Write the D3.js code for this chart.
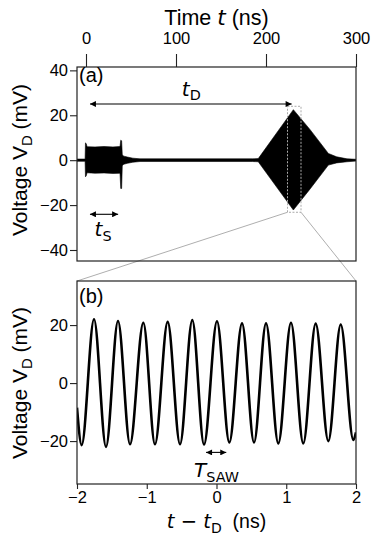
<!DOCTYPE html>
<html>
<head>
<meta charset="utf-8">
<script src="https://cdn.jsdelivr.net/npm/d3@7"></script>
<style>
  html, body { margin: 0; padding: 0; background: #fff; }
  svg { display: block; }
  text { font-family: "Liberation Sans", Arial, sans-serif; fill: #000; }
  .math { font-family: "DejaVu Sans", sans-serif; }
</style>
</head>
<body>
<div id="chart"></div>
<script>
// ── data ──────────────────────────────────────────────────
// panel (a): envelope of the recorded trace (time in ns, mV)
const envT  = [-10, -1, -0.6, 0.2, 1.2, 10, 20, 30, 37.8, 38.6, 39.6, 40.3, 42, 46, 52, 60, 100, 150, 185, 191.4, 230.4, 249, 269.3, 278.5, 290, 300];
const envHi = [0.5, 0.5, 7.7, 7.4, 6.0, 5.9, 6.1, 5.9, 6.1, 8.9, 8.6, 2.4, 1.8, 1.4, 0.9, 0.6, 0.6, 0.6, 0.6, 0.7, 22.5, 13.6, 3.0, 1.5, 0.6, 0.4];
const envLo = [-0.5, -0.5, -7.4, -7.0, -5.6, -5.8, -5.7, -5.9, -5.8, -12.6, -12.6, -2.5, -1.8, -1.4, -0.9, -0.6, -0.6, -0.6, -0.6, -0.7, -22.2, -12.8, -2.2, -1.2, -0.7, -0.4];

// panel (b): extrema of the SAW oscillation around t_D (ns, mV)
const waveT = [-2.000, -1.933, -1.756, -1.584, -1.412, -1.240, -1.049, -0.882, -0.700, -0.523, -0.347, -0.179,
               0.007, 0.184, 0.366, 0.538, 0.710, 0.886, 1.068, 1.244, 1.422, 1.603, 1.781, 1.962, 2.000];
const waveV = [-8.5, -21.4, 22.0, -22.0, 21.4, -21.1, 20.8, -21.1, 21.1, -21.1, 21.7, -21.2,
               21.3, -20.5, 20.6, -20.5, 20.6, -20.8, 20.8, -20.8, 20.5, -20.0, 20.2, -19.6, -17.0];

const ticksTimeA = [0, 100, 200, 300];
const ticksVA    = [-40, -20, 0, 20, 40];
const ticksTimeB = [-2, -1, 0, 1, 2];
const ticksVB    = [-20, 0, 20];

// zoom window shown in (b), in (a) coordinates
const zoomBox = { t0: 223.9, t1: 238.9, v0: -23.2, v1: 24 };

// ── layout ────────────────────────────────────────────────
const W = 382, H = 548;
const L = 77, R = 356;
const A = { top: 67, bottom: 261 };
const B = { top: 281, bottom: 484 };
const TICKFONT = 16.5;
const LABELFONT = 21;

const svg = d3.select("#chart").append("svg").attr("width", W).attr("height", H);

const defs = svg.append("defs");
[["arrowEnd", "auto"], ["arrowStart", "auto-start-reverse"]].forEach(([id, orient]) => {
  defs.append("marker").attr("id", id)
    .attr("viewBox", "0 0 10 10").attr("refX", 10).attr("refY", 5)
    .attr("markerWidth", 7).attr("markerHeight", 6).attr("markerUnits", "userSpaceOnUse")
    .attr("orient", orient)
    .append("path").attr("d", "M0,0 L10,5 L0,10 z").attr("fill", "#000");
});
defs.append("clipPath").attr("id", "clipA").append("rect")
  .attr("x", L).attr("y", A.top).attr("width", R - L).attr("height", A.bottom - A.top);
defs.append("clipPath").attr("id", "clipB").append("rect")
  .attr("x", L).attr("y", B.top).attr("width", R - L).attr("height", B.bottom - B.top);

// scales
const xA = d3.scaleLinear().domain([-10, 300]).range([L, R]);
const yA = d3.scaleLinear().domain([-44.9, 41.5]).range([A.bottom, A.top]);
const xB = d3.scaleLinear().domain([-2, 2]).range([L, R]);
const yB = d3.scaleLinear().domain([-34.8, 35.2]).range([B.bottom, B.top]);

function styleAxis(ax) {
  ax.select(".domain").remove();
  ax.selectAll("line").attr("stroke", "#222").attr("stroke-width", 1.1);
  ax.selectAll("text").attr("font-family", "Liberation Sans, Arial, sans-serif")
    .attr("font-size", TICKFONT).attr("fill", "#000");
}

// ── panel (a) ─────────────────────────────────────────────
const env = envT.map((t, i) => ({ t, hi: envHi[i], lo: envLo[i] }));
svg.append("path").datum(env)
  .attr("clip-path", "url(#clipA)")
  .attr("d", d3.area().x(d => xA(d.t)).y0(d => yA(d.lo)).y1(d => yA(d.hi)).curve(d3.curveLinear))
  .attr("fill", "#000").attr("stroke", "#000").attr("stroke-width", 0.6);

// zoom box
svg.append("rect")
  .attr("x", xA(zoomBox.t0)).attr("y", yA(zoomBox.v1))
  .attr("width", xA(zoomBox.t1) - xA(zoomBox.t0)).attr("height", yA(zoomBox.v0) - yA(zoomBox.v1))
  .attr("fill", "none").attr("stroke", "#aaa").attr("stroke-width", 1).attr("stroke-dasharray", "2,1.5");

// connectors
svg.append("line")
  .attr("x1", xA(zoomBox.t0)).attr("y1", yA(zoomBox.v0)).attr("x2", xB(-2)).attr("y2", B.top)
  .attr("stroke", "#999").attr("stroke-width", 0.8);
svg.append("line")
  .attr("x1", xA(zoomBox.t1)).attr("y1", yA(zoomBox.v0)).attr("x2", xB(2)).attr("y2", B.top)
  .attr("stroke", "#999").attr("stroke-width", 0.8);

svg.append("g").attr("transform", `translate(0,${A.top})`)
  .call(d3.axisTop(xA).tickValues(ticksTimeA).tickSize(13).tickPadding(10))
  .call(styleAxis);
svg.append("g").attr("transform", `translate(${L},0)`)
  .call(d3.axisLeft(yA).tickValues(ticksVA).tickSize(7).tickPadding(2))
  .call(styleAxis);
svg.append("rect").attr("x", L).attr("y", A.top).attr("width", R - L).attr("height", A.bottom - A.top)
  .attr("fill", "none").attr("stroke", "#222").attr("stroke-width", 1.2);

// arrows (a)
function dblArrow(x1, x2, y) {
  svg.append("line").attr("x1", x1).attr("x2", x2).attr("y1", y).attr("y2", y)
    .attr("stroke", "#000").attr("stroke-width", 1.1)
    .attr("marker-start", "url(#arrowStart)").attr("marker-end", "url(#arrowEnd)");
}
dblArrow(xA(4.4), xA(228.5), yA(25));
dblArrow(xA(4.4), xA(35.7), yA(-24.1));

function mathLabel(x, y, main, sub, size) {
  const t = svg.append("text").attr("x", x).attr("y", y).attr("text-anchor", "middle")
    .attr("font-size", size);
  t.append("tspan").attr("class", "math").attr("font-style", "italic").text(main);
  t.append("tspan").attr("class", "math").attr("font-size", size * 0.72).attr("dy", size * 0.24).text(sub);
  return t;
}
mathLabel(xA(117), yA(28.8), "t", "D", 20);
mathLabel(xA(19), yA(-33.8), "t", "S", 20);

svg.append("text").attr("x", L + 2).attr("y", A.top + 15).attr("font-size", 20).text("(a)");

// title
const ttl = svg.append("text").attr("x", (L + R) / 2).attr("y", 25).attr("text-anchor", "middle").attr("font-size", 21.5);
ttl.append("tspan").text("Time ");
ttl.append("tspan").attr("class", "math").attr("font-style", "italic").text("t");
ttl.append("tspan").text(" (ns)");

// y labels
function yLabel(cy) {
  const t = svg.append("text").attr("transform", `translate(27,${cy}) rotate(-90)`)
    .attr("text-anchor", "middle").attr("font-size", LABELFONT);
  t.append("tspan").text("Voltage V");
  t.append("tspan").attr("font-size", LABELFONT * 0.71).attr("dy", 5).text("D");
  t.append("tspan").attr("dy", -5).text(" (mV)");
}
yLabel(160);
yLabel(383);

// ── panel (b) ─────────────────────────────────────────────
const wave = waveT.map((t, i) => ({ t, v: waveV[i] }));
svg.append("path").datum(wave)
  .attr("clip-path", "url(#clipB)")
  .attr("d", d3.line().x(d => xB(d.t)).y(d => yB(d.v)).curve(d3.curveMonotoneX))
  .attr("fill", "none").attr("stroke", "#000").attr("stroke-width", 2.6);

svg.append("g").attr("transform", `translate(0,${B.bottom})`)
  .call(d3.axisBottom(xB).tickValues(ticksTimeB).tickSize(5).tickPadding(2).tickFormat(d3.format("d")))
  .call(styleAxis);
svg.append("g").attr("transform", `translate(${L},0)`)
  .call(d3.axisLeft(yB).tickValues(ticksVB).tickSize(7).tickPadding(2))
  .call(styleAxis);
svg.append("rect").attr("x", L).attr("y", B.top).attr("width", R - L).attr("height", B.bottom - B.top)
  .attr("fill", "none").attr("stroke", "#222").attr("stroke-width", 1.2);

svg.append("text").attr("x", L + 2).attr("y", B.top + 22).attr("font-size", 20).text("(b)");

dblArrow(xB(-0.15), xB(0.14), yB(-23.9));
mathLabel(xB(0), yB(-32.4), "T", "SAW", 20);

// x label (b)
const xl = svg.append("text").attr("x", (L + R) / 2).attr("y", 528).attr("text-anchor", "middle").attr("font-size", 19.5);
xl.append("tspan").attr("class", "math").attr("font-style", "italic").text("t");
xl.append("tspan").attr("class", "math").text(" \u2212 ");
xl.append("tspan").attr("class", "math").attr("font-style", "italic").text("t");
xl.append("tspan").attr("class", "math").attr("font-size", 14).attr("dy", 4.5).text("D");
xl.append("tspan").attr("dy", -4.5).text("\u00a0 (ns)");
</script>
</body>
</html>
